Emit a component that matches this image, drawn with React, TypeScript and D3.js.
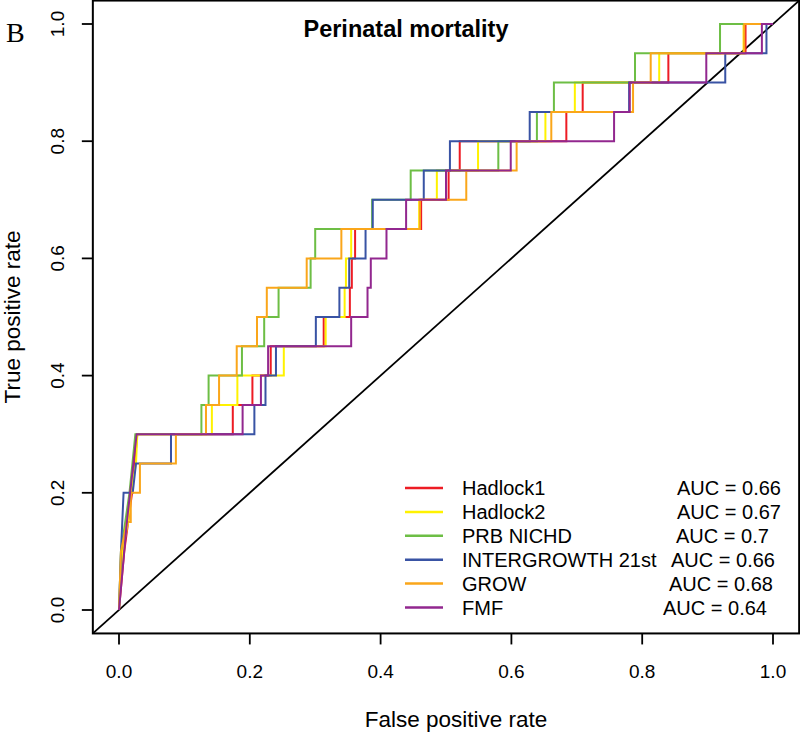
import React from "react";
import * as d3 from "d3";

type Pt = [number, number];

const seriesNames = ["Hadlock1", "Hadlock2", "PRB NICHD", "INTERGROWTH 21st", "GROW", "FMF"];
const aucLabels = ["AUC = 0.66", "AUC = 0.67", "AUC = 0.7", "AUC = 0.66", "AUC = 0.68", "AUC = 0.64"];
const xTicks = [0, 0.2, 0.4, 0.6, 0.8, 1.0];
const yTicks = [0, 0.2, 0.4, 0.6, 0.8, 1.0];

const hadlock1: Pt[] = [
  [0, 0], [0.008, 0.1], [0.02, 0.2], [0.028, 0.3],
  [0.174, 0.3], [0.174, 0.35], [0.204, 0.35], [0.204, 0.4], [0.232, 0.4], [0.232, 0.45],
  [0.313, 0.45], [0.313, 0.5], [0.353, 0.5], [0.353, 0.55], [0.356, 0.55], [0.356, 0.6],
  [0.361, 0.6], [0.361, 0.65], [0.462, 0.65], [0.462, 0.7], [0.504, 0.7], [0.504, 0.75],
  [0.521, 0.75], [0.521, 0.8], [0.684, 0.8], [0.684, 0.85], [0.709, 0.85], [0.709, 0.9],
  [0.84, 0.9], [0.84, 0.95], [0.958, 0.95], [0.958, 1], [1, 1],
];
const hadlock2: Pt[] = [
  [0, 0], [0.005, 0.1], [0.014, 0.15], [0.018, 0.2], [0.026, 0.25], [0.028, 0.3],
  [0.142, 0.3], [0.142, 0.35], [0.181, 0.35], [0.181, 0.4], [0.252, 0.4], [0.252, 0.45],
  [0.316, 0.45], [0.316, 0.5], [0.345, 0.5], [0.345, 0.55], [0.347, 0.55], [0.347, 0.6],
  [0.355, 0.6], [0.355, 0.65], [0.459, 0.65], [0.459, 0.7], [0.486, 0.7], [0.486, 0.75],
  [0.549, 0.75], [0.549, 0.8], [0.652, 0.8], [0.652, 0.85], [0.697, 0.85], [0.697, 0.9],
  [0.826, 0.9], [0.826, 0.95], [0.955, 0.95], [0.955, 1], [1, 1],
];
const prbNichd: Pt[] = [
  [0, 0], [0.003, 0.1], [0.016, 0.2], [0.025, 0.3],
  [0.126, 0.3], [0.126, 0.35], [0.137, 0.35], [0.137, 0.4], [0.188, 0.4], [0.188, 0.45],
  [0.222, 0.45], [0.222, 0.5], [0.244, 0.5], [0.244, 0.55], [0.293, 0.55], [0.293, 0.6],
  [0.3, 0.6], [0.3, 0.65], [0.387, 0.65], [0.387, 0.7], [0.446, 0.7], [0.446, 0.75],
  [0.58, 0.75], [0.58, 0.8], [0.639, 0.8], [0.639, 0.85], [0.665, 0.85], [0.665, 0.9],
  [0.789, 0.9], [0.789, 0.95], [0.919, 0.95], [0.919, 1], [1, 1],
];
const intergrowth: Pt[] = [
  [0, 0], [0.003, 0.1], [0.007, 0.2], [0.021, 0.2], [0.026, 0.25], [0.0795, 0.25], [0.0795, 0.3],
  [0.207, 0.3], [0.207, 0.35], [0.224, 0.35], [0.224, 0.4], [0.24, 0.4], [0.24, 0.45],
  [0.301, 0.45], [0.301, 0.5], [0.337, 0.5], [0.337, 0.55], [0.352, 0.55], [0.352, 0.6],
  [0.377, 0.6], [0.377, 0.65], [0.388, 0.65], [0.388, 0.7], [0.466, 0.7], [0.466, 0.75],
  [0.506, 0.75], [0.506, 0.8], [0.628, 0.8], [0.628, 0.85], [0.78, 0.85], [0.78, 0.9],
  [0.927, 0.9], [0.927, 0.95], [0.99, 0.95], [0.99, 1], [1, 1],
];
const grow: Pt[] = [
  [0, 0], [0.003, 0.1], [0.012, 0.15], [0.018, 0.15], [0.018, 0.2], [0.032, 0.2], [0.032, 0.25],
  [0.087, 0.25], [0.087, 0.3], [0.133, 0.3], [0.133, 0.35], [0.153, 0.35], [0.153, 0.4],
  [0.18, 0.4], [0.18, 0.45], [0.211, 0.45], [0.211, 0.5], [0.226, 0.5], [0.226, 0.55],
  [0.287, 0.55], [0.287, 0.6], [0.34, 0.6], [0.34, 0.65], [0.46, 0.65], [0.46, 0.7],
  [0.531, 0.7], [0.531, 0.75], [0.608, 0.75], [0.608, 0.8], [0.661, 0.8], [0.661, 0.85],
  [0.786, 0.85], [0.786, 0.9], [0.813, 0.9], [0.813, 0.95], [0.956, 0.95], [0.956, 1], [1, 1],
];
const fmf: Pt[] = [
  [0, 0], [0.012, 0.15], [0.027, 0.3], [0.189, 0.3], [0.189, 0.35], [0.217, 0.35], [0.217, 0.4],
  [0.228, 0.4], [0.228, 0.45], [0.355, 0.45], [0.355, 0.5], [0.38, 0.5], [0.38, 0.55],
  [0.385, 0.55], [0.385, 0.6], [0.409, 0.6], [0.409, 0.65], [0.439, 0.65], [0.439, 0.7],
  [0.5, 0.7], [0.5, 0.75], [0.599, 0.75], [0.599, 0.8], [0.757, 0.8], [0.757, 0.85],
  [0.781, 0.85], [0.781, 0.9], [0.898, 0.9], [0.898, 0.95], [0.983, 0.95], [0.983, 1], [1, 1],
];

const seriesData: Pt[][] = [hadlock1, hadlock2, prbNichd, intergrowth, grow, fmf];
const colors = ["#ED1C24", "#FFF200", "#6DBE45", "#3953A4", "#FAA61A", "#92278F"];

// layout
const W = 800;
const H = 734;
const FONT = "'Liberation Sans', Arial, Helvetica, sans-serif";
const aucX = [677, 677, 676, 671, 669, 663];

export default function App() {
  const x = d3.scaleLinear().domain([0, 1]).range([119, 773]);
  const y = d3.scaleLinear().domain([0, 1]).range([610, 24]);
  const line = d3
    .line<Pt>()
    .x((d) => x(d[0]))
    .y((d) => y(d[1]));

  const x0 = x(-0.04);
  const x1 = x(1.04);
  const y0 = y(-0.04);
  const y1 = y(1.04);

  const legY0 = 488;
  const legDy = 23.9;

  return (
    <svg
      width={W}
      height={H}
      style={{ position: "absolute", left: 0, top: 0, display: "block", background: "#fff" }}
    >
      <rect x={0} y={0} width={W} height={H} fill="#fff" />
      {/* diagonal */}
      <line x1={x0} y1={y0} x2={x1} y2={y1} stroke="#000" strokeWidth={1.8} />
      {/* curves */}
      {seriesData.map((d, i) => (
        <path key={i} d={line(d) || ""} fill="none" stroke={colors[i]} strokeWidth={2} strokeLinejoin="miter" />
      ))}
      {/* box */}
      <rect x={x0} y={y1} width={x1 - x0} height={y0 - y1} fill="none" stroke="#000" strokeWidth={2} />
      {/* x axis ticks */}
      {xTicks.map((t) => (
        <g key={"xt" + t}>
          <line x1={x(t)} x2={x(t)} y1={y0} y2={y0 + 11} stroke="#000" strokeWidth={1.8} />
          <text x={x(t)} y={678} textAnchor="middle" fontFamily={FONT} fontSize={19} fill="#000">
            {t.toFixed(1)}
          </text>
        </g>
      ))}
      {/* y axis ticks */}
      {yTicks.map((t) => (
        <g key={"yt" + t}>
          <line x1={x0} x2={x0 - 11} y1={y(t)} y2={y(t)} stroke="#000" strokeWidth={1.8} />
          <text
            transform={`translate(64,${y(t)}) rotate(-90)`}
            textAnchor="middle"
            fontFamily={FONT}
            fontSize={19}
            fill="#000"
          >
            {t.toFixed(1)}
          </text>
        </g>
      ))}
      {/* axis titles */}
      <text x={456} y={727} textAnchor="middle" fontFamily={FONT} fontSize={22.5} fill="#000">
        False positive rate
      </text>
      <text
        transform={`translate(20,${(y0 + y1) / 2}) rotate(-90)`}
        textAnchor="middle"
        fontFamily={FONT}
        fontSize={22.5}
        fill="#000"
      >
        True positive rate
      </text>
      {/* title */}
      <text x={406} y={37} textAnchor="middle" fontFamily={FONT} fontSize={23.5} fontWeight="bold" fill="#000">
        Perinatal mortality
      </text>
      {/* panel letter */}
      <text x={6} y={42} fontFamily="'Liberation Serif', 'Times New Roman', serif" fontSize={28} fill="#000">
        B
      </text>
      {/* legend */}
      {seriesNames.map((name, i) => {
        const cy = legY0 + i * legDy;
        return (
          <g key={"lg" + i}>
            <line x1={405} x2={443} y1={cy} y2={cy} stroke={colors[i]} strokeWidth={2.5} />
            <text x={462} y={cy + 7} fontFamily={FONT} fontSize={20} fill="#000">
              {name}
            </text>
            <text x={aucX[i]} y={cy + 7} fontFamily={FONT} fontSize={20} fill="#000">
              {aucLabels[i]}
            </text>
          </g>
        );
      })}
    </svg>
  );
}
